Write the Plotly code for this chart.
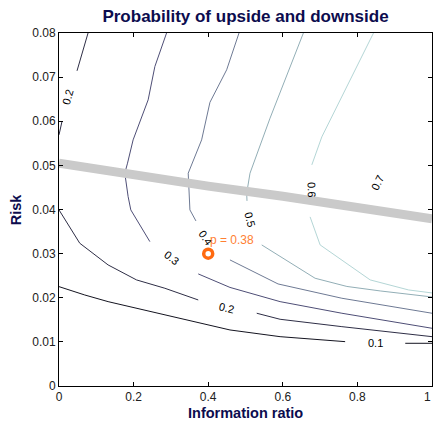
import plotly.graph_objects as go

# ---------------- data ----------------
levels = [0.1, 0.2, 0.3, 0.4, 0.5, 0.6, 0.7]

# contour 0.1
c01_a_x = [0.0, 0.069, 0.1316, 0.2078, 0.3241, 0.4584, 0.5927, 0.7671]
c01_a_y = [0.02252, 0.02063, 0.01912, 0.01762, 0.01519, 0.0127, 0.01118, 0.01005]
c01_b_x = [0.9283, 1.0]
c01_b_y = [0.00968, 0.00968]

# contour 0.2 (lower branch)
c02_a_x = [0.0, 0.0556, 0.1316, 0.2078, 0.2838, 0.3733]
c02_a_y = [0.03991, 0.03236, 0.02744, 0.02404, 0.02215, 0.0195]
c02_b_x = [0.5301, 0.5927, 0.7583, 1.0]
c02_b_y = [0.01649, 0.01512, 0.01345, 0.01118]
# contour 0.2 (upper-left branch)
c02_c_x = [0.0779, 0.0483]
c02_c_y = [0.08, 0.07143]
c02_d_x = [0.008, 0.0]
c02_d_y = [0.05993, 0.05692]

# contour 0.3
c03_a_x = [0.2884, 0.257, 0.239, 0.2167, 0.1987, 0.1837, 0.1764, 0.1853, 0.1925, 0.2436]
c03_a_y = [0.08, 0.0724, 0.06485, 0.05993, 0.05578, 0.0505, 0.04823, 0.04293, 0.03991, 0.03272]
c03_b_x = [0.3733, 0.4584, 0.5927, 0.7583, 1.0]
c03_b_y = [0.0254, 0.02234, 0.01912, 0.01649, 0.01308]

# contour 0.4
c04_a_x = [0.4826, 0.4495, 0.4047, 0.3824, 0.3464, 0.3491, 0.351, 0.3671]
c04_a_y = [0.08, 0.07166, 0.06429, 0.05578, 0.04823, 0.04218, 0.03991, 0.03741]
c04_b_x = [0.4584, 0.5873, 0.7583, 1.0]
c04_b_y = [0.02857, 0.02313, 0.01989, 0.01649]

# contour 0.5
c05_a_x = [0.6552, 0.5883, 0.5658, 0.5121, 0.5032, 0.504]
c05_a_y = [0.08, 0.0656, 0.0607, 0.04823, 0.0437, 0.04195]
c05_b_x = [0.5435, 0.5927, 0.6866, 0.7718, 0.8612, 1.0]
c05_b_y = [0.03197, 0.02932, 0.02442, 0.02256, 0.02154, 0.02018]

# contour 0.6
c06_a_x = [0.8432, 0.7046, 0.6778]
c06_a_y = [0.08, 0.05646, 0.05011]
c06_b_x = [0.6732, 0.7001, 0.8343, 0.9372, 1.0]
c06_b_y = [0.03832, 0.03197, 0.02404, 0.02177, 0.02109]

segments = [
    (0.1, c01_a_x, c01_a_y), (0.1, c01_b_x, c01_b_y),
    (0.2, c02_a_x, c02_a_y), (0.2, c02_b_x, c02_b_y),
    (0.2, c02_c_x, c02_c_y), (0.2, c02_d_x, c02_d_y),
    (0.3, c03_a_x, c03_a_y), (0.3, c03_b_x, c03_b_y),
    (0.4, c04_a_x, c04_a_y), (0.4, c04_b_x, c04_b_y),
    (0.5, c05_a_x, c05_a_y), (0.5, c05_b_x, c05_b_y),
    (0.6, c06_a_x, c06_a_y), (0.6, c06_b_x, c06_b_y),
]

# contour labels
label_text = ["0.1", "0.2", "0.2", "0.3", "0.4", "0.5", "0.6", "0.7"]
label_x = [0.8478, 0.4503, 0.0234, 0.3026, 0.3939, 0.5121, 0.6778, 0.8532]
label_y = [0.00968, 0.01762, 0.06553, 0.02896, 0.03356, 0.03787, 0.04444, 0.04603]
label_angle = [0, 13, -74, 38, 55, 75, 88, -64]

# threshold band
band_x = [0.0, 0.2, 0.4, 0.6, 0.8, 1.0]
band_y = [0.0505, 0.0477, 0.0453, 0.0430, 0.0402, 0.0379]

# highlighted point
point_x = [0.4]
point_y = [0.03]
point_p = 0.38

x_ticks = [0, 0.2, 0.4, 0.6, 0.8, 1.0]
x_ticktext = ["0", "0.2", "0.4", "0.6", "0.8", "1"]
y_ticks = [0, 0.01, 0.02, 0.03, 0.04, 0.05, 0.06, 0.07, 0.08]
y_ticktext = ["0", "0.01", "0.02", "0.03", "0.04", "0.05", "0.06", "0.07", "0.08"]

# ---------------- styling ----------------
level_colors = {
    0.1: "#141420",
    0.2: "#2e2e46",
    0.3: "#4e4e76",
    0.4: "#6e7a94",
    0.5: "#92aeb6",
    0.6: "#b4d6d6",
    0.7: "#f4fafa",
}
FONT = "Liberation Sans, Arial, sans-serif"
NAVY = "#0c0c4e"
TICK_COLOR = "#202020"

fig = go.Figure()

for lev, xs, ys in segments:
    fig.add_trace(go.Scatter(x=xs, y=ys, mode="lines",
                             line=dict(color=level_colors[lev], width=1),
                             hoverinfo="skip", showlegend=False))

fig.add_trace(go.Scatter(x=band_x, y=band_y, mode="lines",
                         line=dict(color="#cacaca", width=9),
                         hoverinfo="skip", showlegend=False))

fig.add_trace(go.Scatter(x=point_x, y=point_y, mode="markers",
                         marker=dict(symbol="circle", size=9, color="white",
                                     line=dict(color="#ff6a10", width=3.5)),
                         hoverinfo="skip", showlegend=False))

annotations = []
for t, lx, ly, ang in zip(label_text, label_x, label_y, label_angle):
    annotations.append(dict(x=lx, y=ly, xref="x", yref="y", text=t,
                            textangle=ang, showarrow=False,
                            xanchor="center", yanchor="middle",
                            font=dict(family=FONT, size=11, color="black")))

annotations.append(dict(x=point_x[0], y=point_y[0] + 0.0031, xref="x", yref="y",
                        text=f"p = {point_p:.2f}", xanchor="left", yanchor="middle",
                        showarrow=False,
                        font=dict(family=FONT, size=12, color="#ff8033")))

annotations.append(dict(x=-0.116, y=0.5, xref="paper", yref="paper", text="<b>Risk</b>",
                        textangle=-90, showarrow=False,
                        xanchor="center", yanchor="middle",
                        font=dict(family=FONT, size=14.5, color=NAVY)))
annotations.append(dict(x=0.5, y=-0.077, xref="paper", yref="paper",
                        text="<b>Information ratio</b>", showarrow=False,
                        xanchor="center", yanchor="middle",
                        font=dict(family=FONT, size=14.5, color=NAVY)))

# last x tick label: drawn right-anchored so it stays inside the page
x_shown_text = x_ticktext[:-1] + [""]
annotations.append(dict(x=x_ticks[-1], y=-0.031, xref="x", yref="paper",
                        text=x_ticktext[-1], showarrow=False,
                        xanchor="right", yanchor="middle", xshift=1,
                        font=dict(family=FONT, size=12, color=TICK_COLOR)))

axis_common = dict(showline=True, linecolor="black", linewidth=1, mirror="ticks",
                   ticks="inside", ticklen=4, tickcolor="black", showgrid=False,
                   zeroline=False, automargin=False,
                   tickfont=dict(family=FONT, size=12, color=TICK_COLOR))

fig.update_layout(
    width=433, height=427,
    margin=dict(l=59, r=1, t=33, b=41),
    paper_bgcolor="white", plot_bgcolor="white",
    title=dict(text="<b>Probability of upside and downside</b>",
               x=0.567, xref="container", xanchor="center",
               y=1 - 16 / 427, yref="container", yanchor="middle",
               font=dict(family=FONT, size=17, color=NAVY)),
    xaxis=dict(range=[0, 1], tickvals=x_ticks, ticktext=x_shown_text, **axis_common),
    yaxis=dict(range=[0, 0.08], tickvals=y_ticks, ticktext=y_ticktext, **axis_common),
    annotations=annotations,
    hovermode=False,
)

fig.write_html("out.html",
               config={"displayModeBar": False},
               post_script="document.body.style.margin='0px';document.body.style.overflow='hidden';")
